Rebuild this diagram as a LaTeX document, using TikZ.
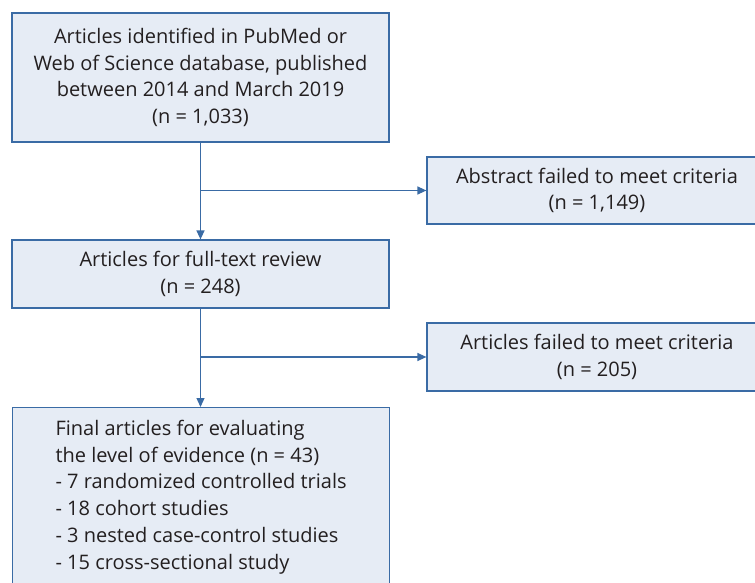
\documentclass[tikz,border=0pt]{standalone}
\usepackage{fontspec}
\setmainfont{Open Sans}
\usetikzlibrary{arrows.meta}

\definecolor{flowblue}{HTML}{3A6BA5}
\definecolor{flowfill}{HTML}{E6ECF5}
\definecolor{flowtext}{HTML}{231F20}

\tikzset{
	flowbox/.style={draw=flowblue, fill=flowfill, line width=1.2pt, text=flowtext,
		align=center, inner sep=0pt, font=\fontsize{20}{26.8}\selectfont},
	flowarrow/.style={draw=flowblue, line width=1.2pt, -{Triangle[length=9pt, width=8pt]}}
}

\begin{document}
\begin{tikzpicture}[x=1pt, y=-1pt]

	\useasboundingbox (0,0) rectangle (755,583);
	\clip (0,0) rectangle (755,583);

	\node[flowbox, minimum width=377pt, minimum height=129pt] (search) at (200.5,77.5)
		{Articles identified in PubMed or\\Web of Science database, published\\between 2014 and March 2019\\(n = 1,033)};
	\node[flowbox, minimum width=340pt, minimum height=67pt] (abstract) at (597,190.5)
		{Abstract failed to meet criteria\\(n = 1,149)};

	\node[flowbox, minimum width=377pt, minimum height=68pt] (fulltext) at (200.5,274)
		{Articles for full-text review\\(n = 248)};
	\node[flowbox, minimum width=340pt, minimum height=68pt] (failed) at (597,357)
		{Articles failed to meet criteria\\(n = 205)};

	\node[flowbox, anchor=north west, align=left, minimum width=377pt,
		minimum height=179pt] (final) at (12,407)
		{Final articles for evaluating\\the level of evidence (n = 43)\\- 7 randomized controlled trials\\- 18 cohort studies\\- 3 nested case-control studies\\- 15 cross-sectional study};

	\coordinate (split1) at (search.south |- abstract.west);
	\coordinate (split2) at (fulltext.south |- failed.west);

	\draw[flowarrow] (search.south) -- (fulltext.north);
	\draw[flowarrow] (split1) -- (abstract.west);
	\draw[flowarrow] (fulltext.south) -- (final.north -| fulltext.south);
	\draw[flowarrow] (split2) -- (failed.west);

\end{tikzpicture}
\end{document}
